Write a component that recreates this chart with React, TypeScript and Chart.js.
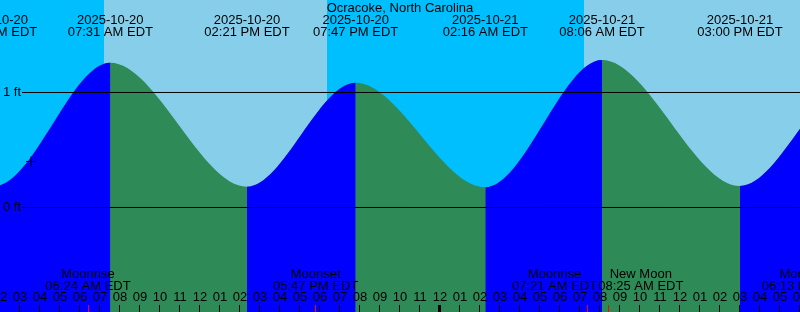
import React, { useEffect, useRef } from 'react';
import { Chart, registerables } from 'chart.js';

Chart.register(...registerables);

// ---------- data ----------
const stationTitle = 'Ocracoke, North Carolina';
const timeZone = 'EDT';

// tide extremes (local time) and heights in ft
const tideTimes = [
  '2025-10-19 19:30',
  '2025-10-20 01:44',
  '2025-10-20 07:31',
  '2025-10-20 14:21',
  '2025-10-20 19:47',
  '2025-10-21 02:16',
  '2025-10-21 08:06',
  '2025-10-21 15:00',
  '2025-10-21 20:40',
  '2025-10-22 03:00',
];
const tideHeights = [1.1, 0.187, 1.259, 0.181, 1.085, 0.176, 1.283, 0.187, 1.1, 0.18];

// sun events
const sunTimes = ['2025-10-20 07:12', '2025-10-20 18:20', '2025-10-21 07:11', '2025-10-21 18:19'];
const sunKinds = ['rise', 'set', 'rise', 'set'];

// moon events
const moonTimes = ['2025-10-20 06:24', '2025-10-20 17:47', '2025-10-21 07:21', '2025-10-21 08:25', '2025-10-21 18:13'];
const moonNames = ['Moonrise', 'Moonset', 'Moonrise', 'New Moon', 'Moonset'];

// current-time mark
const markTime = '2025-10-20 03:33';
const markHeight = 0.4;

// window
const windowStart = '2025-10-20 02:00';
const windowHours = 40;

// height reference lines
const levelTicks = [0, 1];
const levelMin = -0.9087;
const levelMax = 1.8043;

// ---------- style ----------
const DAY = '#87CEEB';
const NIGHT = '#00BFFF';
const FLOOD = '#0000FF';
const EBB = '#2E8B57';
const FONT = '13px "Liberation Sans", Arial, Helvetica, sans-serif';

function toHours(s: string): number {
  const [d, hm] = s.split(' ');
  const day = parseInt(d.slice(8, 10), 10) - 20 + (parseInt(d.slice(5, 7), 10) - 10) * 31;
  const [h, m] = hm.split(':').map(Number);
  return day * 24 + h + m / 60;
}
const pad = (n: number) => (n < 10 ? '0' : '') + n;
function fmtTime(s: string): string {
  const [, hm] = s.split(' ');
  const [h, m] = hm.split(':').map(Number);
  return `${pad(h % 12 || 12)}:${pad(m)} ${h < 12 ? 'AM' : 'PM'} ${timeZone}`;
}
function fmtDate(s: string): string {
  return s.split(' ')[0];
}

const overlayPlugin = {
  id: 'xtideOverlay',
  beforeDatasetsDraw(chart: any) {
    const { ctx, chartArea: a, scales } = chart;
    const xs = scales.x;
    ctx.save();
    ctx.fillStyle = NIGHT;
    ctx.fillRect(a.left, a.top, a.right - a.left, a.bottom - a.top);
    ctx.fillStyle = DAY;
    let riseX: number | null = null;
    for (let i = 0; i < sunTimes.length; i++) {
      const px = xs.getPixelForValue(toHours(sunTimes[i]));
      if (sunKinds[i] === 'rise') riseX = px;
      else {
        const from = riseX === null ? a.left : riseX;
        const l = Math.max(a.left, Math.round(from));
        const r = Math.min(a.right, Math.round(px));
        if (r > l) ctx.fillRect(l, a.top, r - l, a.bottom - a.top);
        riseX = null;
      }
    }
    if (riseX !== null) {
      const l = Math.max(a.left, Math.round(riseX));
      ctx.fillRect(l, a.top, a.right - l, a.bottom - a.top);
    }
    ctx.restore();
  },
  afterDatasetsDraw(chart: any) {
    const { ctx, chartArea: a, scales } = chart;
    const xs = scales.x;
    const ys = scales.y;
    ctx.save();
    ctx.font = FONT;
    ctx.fillStyle = '#000';
    ctx.strokeStyle = '#000';

    // level lines + labels
    ctx.lineWidth = 1;
    for (const v of levelTicks) {
      const py = ys.getPixelForValue(v);
      ctx.beginPath();
      ctx.moveTo(22, py);
      ctx.lineTo(a.right, py);
      ctx.stroke();
      ctx.textAlign = 'right';
      ctx.textBaseline = 'middle';
      ctx.fillText(`${v} ft`, 21, py);
    }

    // title
    ctx.textAlign = 'center';
    ctx.textBaseline = 'alphabetic';
    ctx.fillText(stationTitle, (a.left + a.right) / 2, 12);

    // tide event labels
    for (let i = 0; i < tideTimes.length; i++) {
      const px = xs.getPixelForValue(toHours(tideTimes[i]));
      if (px < -100 || px > a.right + 100) continue;
      ctx.fillText(fmtDate(tideTimes[i]), px, 24);
      ctx.fillText(fmtTime(tideTimes[i]), px, 36);
    }

    // moon labels with overlap avoidance
    const items = moonTimes.map((t, i) => {
      const x = xs.getPixelForValue(toHours(t));
      const time = fmtTime(t);
      const w = Math.max(ctx.measureText(moonNames[i]).width, ctx.measureText(time).width);
      return { x, c: x, w, name: moonNames[i], time };
    });
    items.sort((p, q) => p.x - q.x);
    for (let i = 0; i + 1 < items.length; i++) {
      const p = items[i];
      const q = items[i + 1];
      const need = (p.w + q.w) / 2 + 1;
      const d = q.c - p.c;
      if (d < need) {
        const s = (need - d) / 2;
        p.c -= s;
        q.c += s;
      }
    }
    for (const it of items) {
      ctx.fillText(it.name, it.c, 278);
      ctx.fillText(it.time, it.c, 290);
    }

    // hour ticks and labels
    const x0 = xs.min;
    const x1 = xs.max;
    for (let h = Math.floor(x0); h <= Math.ceil(x1); h++) {
      const px = xs.getPixelForValue(h);
      const hh = ((h % 24) + 24) % 24;
      ctx.fillText(pad(hh % 12 || 12), px, 301);
      const col = Math.floor(px - 0.5);
      if (hh === 0) ctx.fillRect(col - 1, 305, 3, 7);
      else ctx.fillRect(col, 305, 1, 7);
    }
    // moon event ticks
    ctx.fillStyle = '#FF0000';
    for (const it of items) {
      ctx.fillRect(Math.round(it.x - 0.5), 305, 1, 7);
    }
    ctx.restore();
  },
};

export default function App() {
  const ref = useRef<HTMLCanvasElement | null>(null);
  useEffect(() => {
    document.body.style.margin = '0';
    const canvas = ref.current;
    if (!canvas) return;
    const start = toHours(windowStart);
    const tidePoints = tideTimes.map((t, i) => ({ x: toHours(t), y: tideHeights[i] }));
    const chart = new Chart(canvas, {
      type: 'line',
      data: {
        datasets: [
          {
            type: 'scatter',
            label: 'Now',
            data: [{ x: toHours(markTime), y: markHeight }],
            pointStyle: 'cross',
            pointRadius: 5,
            borderColor: '#000',
            borderWidth: 1,
            backgroundColor: '#000',
            order: 0,
          } as any,
          {
            label: 'Flood',
            data: tidePoints,
            fill: 'start',
            borderWidth: 0,
            borderColor: 'rgba(0,0,0,0)',
            pointRadius: 0,
            cubicInterpolationMode: 'monotone',
            backgroundColor: FLOOD,
            segment: {
              backgroundColor: (c: any) => (c.p1.parsed.y >= c.p0.parsed.y ? FLOOD : 'rgba(0,0,0,0)'),
            },
            order: 1,
          } as any,
          {
            label: 'Ebb',
            data: tidePoints,
            fill: 'start',
            borderWidth: 0,
            borderColor: 'rgba(0,0,0,0)',
            pointRadius: 0,
            cubicInterpolationMode: 'monotone',
            backgroundColor: EBB,
            order: 2,
          } as any,
        ],
      },
      options: {
        responsive: false,
        animation: false,
        events: [],
        layout: { padding: 0, autoPadding: false },
        scales: {
          x: { type: 'linear', min: start, max: start + windowHours, display: false },
          y: { type: 'linear', min: levelMin, max: levelMax, display: false },
        },
        plugins: { legend: { display: false }, tooltip: { enabled: false } },
      } as any,
      plugins: [overlayPlugin],
    });
    return () => chart.destroy();
  }, []);
  return <canvas ref={ref} width={800} height={312} style={{ display: 'block' }} />;
}
